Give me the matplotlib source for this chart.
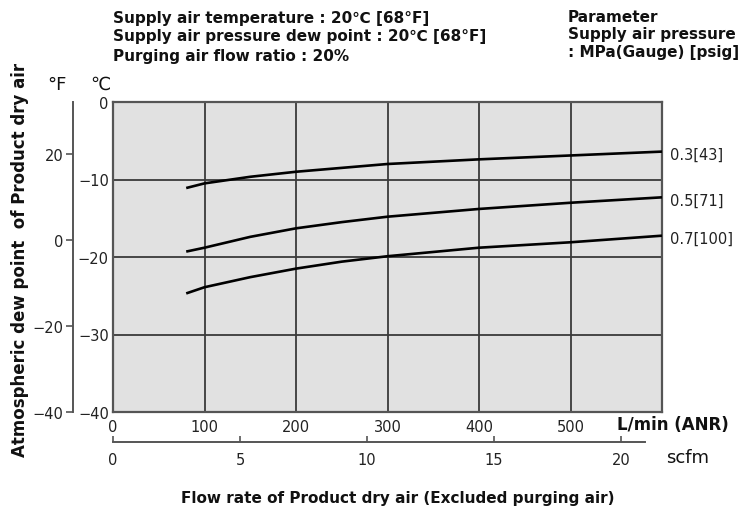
import matplotlib.pyplot as plt

# flow rate of product dry air (L/min ANR) and dew point (degC) per supply pressure
flow = [80, 100, 150, 200, 250, 300, 400, 500, 600]
dew_03 = [-11.1, -10.5, -9.65, -9.0, -8.5, -8.0, -7.4, -6.9, -6.4]
dew_05 = [-19.3, -18.8, -17.4, -16.3, -15.5, -14.8, -13.8, -13.0, -12.3]
dew_07 = [-24.7, -23.9, -22.6, -21.5, -20.6, -19.9, -18.8, -18.1, -17.25]
pressure_labels = ["0.3[43]", "0.5[71]", "0.7[100]"]

c_ticks = [0, -10, -20, -30, -40]
f_ticks = [20, 0, -20, -40]
lmin_ticks = [0, 100, 200, 300, 400, 500]
scfm_ticks = [0, 5, 10, 15, 20]

W, H = 751, 510
fig = plt.figure(figsize=(W / 100, H / 100), dpi=100)


def fx(px):
    return px / W


def fy(py):
    return 1 - py / H


ax = fig.add_axes([fx(113), fy(413), fx(662) - fx(113), fy(103) - fy(413)])
ax.set_facecolor("#e1e1e1")
ax.set_xlim(0, 600)
ax.set_ylim(-40, 0)

for y, lab in zip([dew_03, dew_05, dew_07], pressure_labels):
    ax.plot(flow, y, color="black", lw=1.9, solid_capstyle="butt", zorder=3)
    ax.annotate(lab, (flow[-1], y[-1]), xytext=(6, -2), textcoords="offset points",
                ha="left", va="center", fontsize=10.5, color="#222222",
                annotation_clip=False)

for x in lmin_ticks[1:]:
    ax.axvline(x, color="#3a3a3a", lw=1.3, zorder=2)
for y in c_ticks[1:-1]:
    ax.axhline(y, color="#3a3a3a", lw=1.3, zorder=2)

for s in ax.spines.values():
    s.set_color("#555555")
    s.set_linewidth(1.6)

ax.set_xticks(lmin_ticks)
ax.set_yticks(c_ticks)
ax.tick_params(length=0, labelsize=10.5, colors="#222222")
ax.tick_params(axis="y", pad=3)
ax.tick_params(axis="x", pad=5)

# Fahrenheit axis
sec = ax.secondary_yaxis((73 - 113) / 549, functions=(lambda c: c * 9 / 5 + 32,
                                                      lambda f: (f - 32) * 5 / 9))
sec.set_yticks(f_ticks)
sec.spines["left"].set_color("#555555")
sec.spines["left"].set_linewidth(1.4)
sec.tick_params(length=5, width=1.2, color="#555555", labelsize=10.5,
                labelcolor="#222222", pad=2)

# scfm axis
ax2 = fig.add_axes([fx(113), fy(443), fx(645) - fx(113), 0.0001])
ax2.set_xlim(0, 20.95)
ax2.set_yticks([])
for k in ["top", "left", "right"]:
    ax2.spines[k].set_visible(False)
ax2.spines["bottom"].set_color("#555555")
ax2.spines["bottom"].set_linewidth(1.4)
ax2.set_xticks(scfm_ticks)
ax2.tick_params(axis="x", direction="in", length=4, width=1.2, color="#555555",
                labelsize=10.5, labelcolor="#222222", pad=7)
ax2.patch.set_visible(False)

bold = dict(fontweight="bold", fontsize=11, color="#111111")
fig.text(fx(617), fy(425), "L/min (ANR)", ha="left", va="center",
         fontweight="bold", fontsize=12, color="#111111")
fig.text(fx(666), fy(458), "scfm", ha="left", va="center", fontsize=13, color="#111111")
fig.text(fx(398), fy(499), "Flow rate of Product dry air (Excluded purging air)",
         ha="center", va="center", **bold)
fig.text(fx(20), fy(260), "Atmospheric dew point  of Product dry air", rotation=90,
         ha="center", va="center", fontweight="bold", fontsize=12, color="#111111")
fig.text(fx(57), fy(85), "°F", ha="center", va="center", fontsize=13, color="#111111")
fig.text(fx(100), fy(85), "℃", ha="center", va="center", fontsize=13, color="#111111")

notes = ["Supply air temperature : 20℃ [68°F]",
         "Supply air pressure dew point : 20℃ [68°F]",
         "Purging air flow ratio : 20%"]
for py, t in zip([18, 37, 56], notes):
    fig.text(fx(113), fy(py), t, ha="left", va="center", **bold)

params = ["Parameter", "Supply air pressure", ": MPa(Gauge) [psig]"]
for py, t in zip([17, 35, 53], params):
    fig.text(fx(568), fy(py), t, ha="left", va="center", **bold)

fig.savefig("out.png", dpi=100, facecolor="white")
